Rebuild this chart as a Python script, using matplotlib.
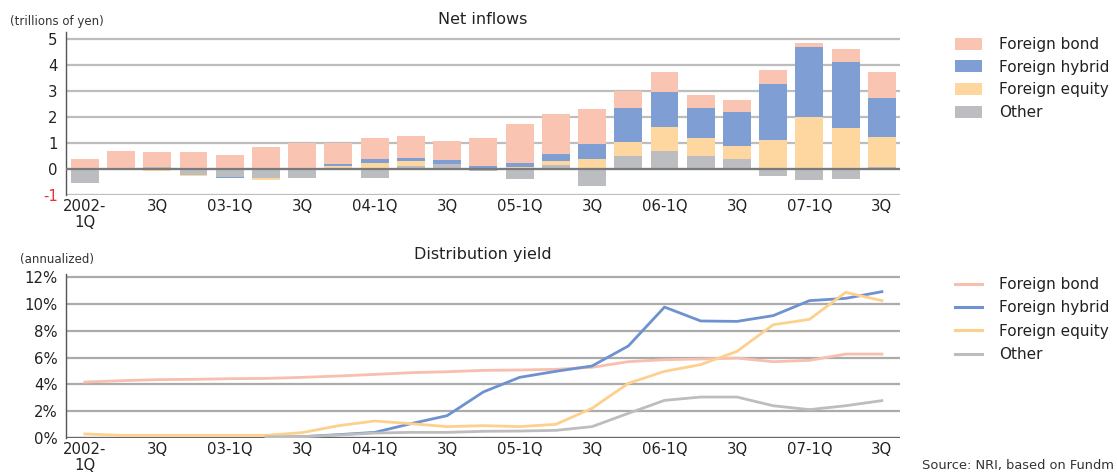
import numpy as np
import matplotlib
matplotlib.use("Agg")
import matplotlib.pyplot as plt

plt.rcParams["axes.unicode_minus"] = False

# quarters 2002-1Q ... 2007-3Q
quarters = list(range(23))
tick_pos = [0, 2, 4, 6, 8, 10, 12, 14, 16, 18, 20, 22]
tick_labels = ["2002-\n1Q", "3Q", "03-1Q", "3Q", "04-1Q", "3Q", "05-1Q", "3Q",
               "06-1Q", "3Q", "07-1Q", "3Q"]

# net inflows (trillions of yen)
flow_bond = [0.38, 0.69, 0.57, 0.65, 0.54, 0.85, 1.01, 0.81, 0.82, 0.84, 0.74, 1.10,
             1.48, 1.54, 1.35, 0.66, 0.77, 0.51, 0.46, 0.54, 0.16, 0.50, 1.00]
flow_hybrid = [0.0, 0.0, 0.0, 0.0, -0.03, 0.0, 0.0, 0.09, 0.15, 0.12, 0.14, 0.10,
               0.19, 0.27, 0.58, 1.31, 1.35, 1.15, 1.31, 2.15, 2.69, 2.54, 1.50]
flow_equity = [0.02, 0.0, -0.06, -0.03, 0.0, -0.09, 0.0, 0.08, 0.23, 0.19, 0.0, 0.0,
               0.06, 0.14, 0.38, 0.54, 0.92, 0.69, 0.50, 1.12, 2.00, 1.58, 1.15]
flow_other = [-0.52, 0.0, 0.08, -0.22, -0.30, -0.33, -0.35, 0.03, -0.33, 0.12, 0.20, -0.06,
              -0.38, 0.17, -0.65, 0.50, 0.69, 0.50, 0.38, -0.27, -0.42, -0.38, 0.08]

# distribution yield (%, annualized)
nan = np.nan
yld_bond = [4.18, 4.28, 4.36, 4.38, 4.43, 4.45, 4.53, 4.63, 4.75, 4.88, 4.95, 5.05,
            5.08, 5.13, 5.28, 5.70, 5.85, 5.90, 5.97, 5.70, 5.80, 6.27, 6.27]
yld_hybrid = [nan, nan, nan, nan, nan, 0.05, 0.10, 0.25, 0.42, 1.07, 1.67, 3.44,
              4.53, 4.98, 5.38, 6.87, 9.78, 8.74, 8.71, 9.14, 10.26, 10.43, 10.93]
yld_equity = [0.30, 0.20, 0.20, 0.20, 0.20, 0.20, 0.40, 0.92, 1.27, 1.07, 0.85, 0.92,
              0.85, 1.02, 2.22, 4.08, 4.98, 5.48, 6.47, 8.46, 8.86, 10.88, 10.26]
yld_other = [nan, nan, nan, nan, nan, 0.08, 0.10, 0.22, 0.37, 0.42, 0.42, 0.50,
             0.52, 0.57, 0.85, 1.84, 2.81, 3.06, 3.06, 2.41, 2.12, 2.41, 2.79]

names = ["Foreign bond", "Foreign hybrid", "Foreign equity", "Other"]
bar_colors = ["#F9C5B2", "#7F9ED3", "#FDD79F", "#BCBDC1"]
line_colors = ["#F8BEAE", "#6E91CF", "#FDD08E", "#BDBDBF"]

fig = plt.figure(figsize=(11.17, 4.75), dpi=100)
ax1 = fig.add_axes([66 / 1117, 1 - 195 / 475, 834 / 1117, 163 / 475])
ax2 = fig.add_axes([66 / 1117, 1 - 438 / 475, 834 / 1117, 164 / 475])

# stacked bars: other at the bottom, bond on top
x = np.array(quarters)
pos = np.zeros(len(x))
neg = np.zeros(len(x))
series = [flow_other, flow_equity, flow_hybrid, flow_bond]
cols = [bar_colors[3], bar_colors[2], bar_colors[1], bar_colors[0]]
handles = {}
for vals, c in zip(series, cols):
    v = np.array(vals)
    base = np.where(v >= 0, pos, neg)
    b = ax1.bar(x, v, 0.77, bottom=base, color=c, zorder=2, linewidth=0)
    handles[c] = b
    pos = pos + np.where(v >= 0, v, 0)
    neg = neg + np.where(v < 0, v, 0)

ax1.set_ylim(-1, 5.27)
ax1.set_yticks([-1, 0, 1, 2, 3, 4, 5])
ax1.axhline(0, color="#7A7A7A", lw=1.6, zorder=3)

for ax, gc in ((ax1, "#BDBDBD"), (ax2, "#ABABAB")):
    ax.set_xlim(-0.52, 22.5)
    ax.set_xticks(tick_pos)
    ax.set_xticklabels(tick_labels, linespacing=1.05)
    ax.grid(axis="y", color=gc, lw=1.6, zorder=0)
    ax.set_axisbelow(True)
    for s in ["top", "right", "bottom"]:
        ax.spines[s].set_visible(False)
    ax.spines["left"].set_color("#555555")
    ax.spines["left"].set_linewidth(1.0)
    ax.tick_params(length=0, labelsize=10.7, colors="#222222")
    ax.tick_params(axis="y", pad=6)
    ax.tick_params(axis="x", pad=3)

ax1.get_yticklabels()[0].set_color("#E8323C")

for vals, c in zip([yld_bond, yld_hybrid, yld_equity, yld_other], line_colors):
    ax2.plot(x, vals, color=c, lw=2.0, zorder=3)
ax2.set_ylim(0, 12.25)
ax2.set_yticks([0, 2, 4, 6, 8, 10, 12])
ax2.set_yticklabels([f"{v}%" for v in [0, 2, 4, 6, 8, 10, 12]])
ax2.axhline(0, color="#666666", lw=1.6, zorder=2)

fig.text(483 / 1117, 1 - 19 / 475, "Net inflows", ha="center", va="center", fontsize=11.5, color="#222222")
fig.text(483 / 1117, 1 - 255 / 475, "Distribution yield", ha="center", va="center", fontsize=11.5, color="#222222")
fig.text(10 / 1117, 1 - 21 / 475, "(trillions of yen)", ha="left", va="center", fontsize=8.5, color="#333333")
fig.text(20 / 1117, 1 - 260 / 475, "(annualized)", ha="left", va="center", fontsize=8.5, color="#333333")
# the source line is cut at the right edge in the original; keep the visible part
fig.text(1114 / 1117, 1 - 466 / 475, "Source: NRI, based on Fundm", ha="right", va="center", fontsize=9.4, color="#333333")

leg1 = ax1.legend([handles[bar_colors[i]] for i in range(4)], names,
                  loc="upper left", bbox_to_anchor=(955 / 1117, 1 - 37 / 475),
                  bbox_transform=fig.transFigure, frameon=False, borderpad=0,
                  borderaxespad=0, fontsize=11.0, handlelength=1.75, handleheight=0.85,
                  handletextpad=1.15, labelspacing=0.5)
for t in leg1.get_texts():
    t.set_color("#222222")

line_handles = [plt.Line2D([], [], color=c, lw=2.2) for c in line_colors]
leg2 = ax2.legend(line_handles, names,
                  loc="upper left", bbox_to_anchor=(955 / 1117, 1 - 277 / 475),
                  bbox_transform=fig.transFigure, frameon=False, borderpad=0,
                  borderaxespad=0, fontsize=11.0, handlelength=1.75,
                  handletextpad=1.15, labelspacing=0.55)
for t in leg2.get_texts():
    t.set_color("#222222")

fig.savefig("out.png", dpi=100)
